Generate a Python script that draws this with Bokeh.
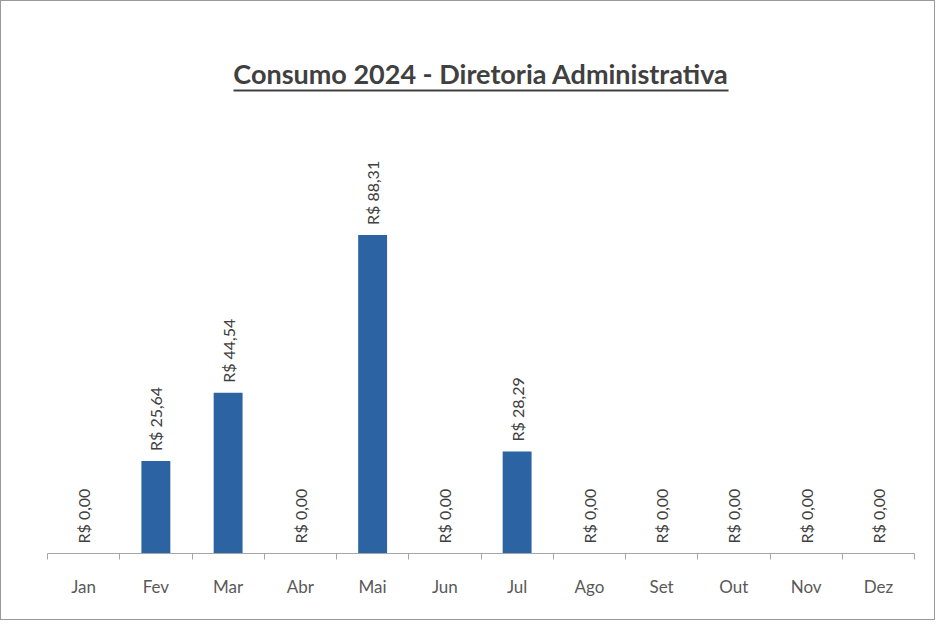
from bokeh.plotting import figure
from bokeh.models import ColumnDataSource, Range1d, FixedTicker, BoxAnnotation, Label
from bokeh.embed import file_html
from bokeh.resources import INLINE
from bokeh.core.properties import value
import math

months = ["Jan", "Fev", "Mar", "Abr", "Mai", "Jun", "Jul", "Ago", "Set", "Out", "Nov", "Dez"]
values = [0.00, 25.64, 44.54, 0.00, 88.31, 0.00, 28.29, 0.00, 0.00, 0.00, 0.00, 0.00]
title_text = "Consumo 2024 - Diretoria Administrativa"

xs = list(range(1, len(months) + 1))
labels = ["R$ " + f"{v:.2f}".replace(".", ",") for v in values]
src = ColumnDataSource(dict(x=xs, v=values, lab=labels))

p = figure(width=935, height=620, output_backend="svg", toolbar_location=None,
           x_range=Range1d(0.5, len(months) + 0.5), y_range=Range1d(0, 147.5),
           min_border_left=46, min_border_right=22, min_border_bottom=68, min_border_top=20,
           background_fill_color="white", border_fill_color="white",
           outline_line_color=None, styles={"border": "1px solid #9a9a9a"})

# chart title (screen units relative to the frame) with its underline
p.add_layout(Label(x=433.5, y=480, x_units="screen", y_units="screen", text=title_text,
                   text_align="center", text_baseline="alphabetic", text_font="Lato",
                   text_font_size="27px", text_font_style="bold", text_color="#404040"))
p.add_layout(BoxAnnotation(left=186, right=681, top=464, bottom=462,
                           left_units="screen", right_units="screen",
                           top_units="screen", bottom_units="screen",
                           fill_color="#404040", fill_alpha=1.0, line_color=None,
                           level="overlay"))

p.vbar(x="x", top="v", width=0.4, source=src, fill_color="#2C64A3", line_color=None)
p.text(x="x", y="v", text="lab", source=src, angle=math.pi / 2, y_offset=-10,
       text_align="left", text_baseline="middle", text_font=value("Lato"),
       text_font_size="16px", text_color="#404040")

p.xgrid.visible = False
p.ygrid.visible = False
p.yaxis.visible = False

ax = p.xaxis[0]
ax.ticker = FixedTicker(ticks=xs, minor_ticks=[x - 0.5 for x in xs] + [len(months) + 0.5])
ax.major_label_overrides = {x: m for x, m in zip(xs, months)}
ax.major_tick_out = 0
ax.major_tick_in = 0
ax.minor_tick_out = 6
ax.minor_tick_in = 0
ax.minor_tick_line_color = "#a6a6a6"
ax.axis_line_color = "#a6a6a6"
ax.major_label_text_font = "Lato"
ax.major_label_text_font_size = "17px"
ax.major_label_text_color = "#595959"
ax.major_label_standoff = 16

open("out.html", "w").write(file_html(p, INLINE))
